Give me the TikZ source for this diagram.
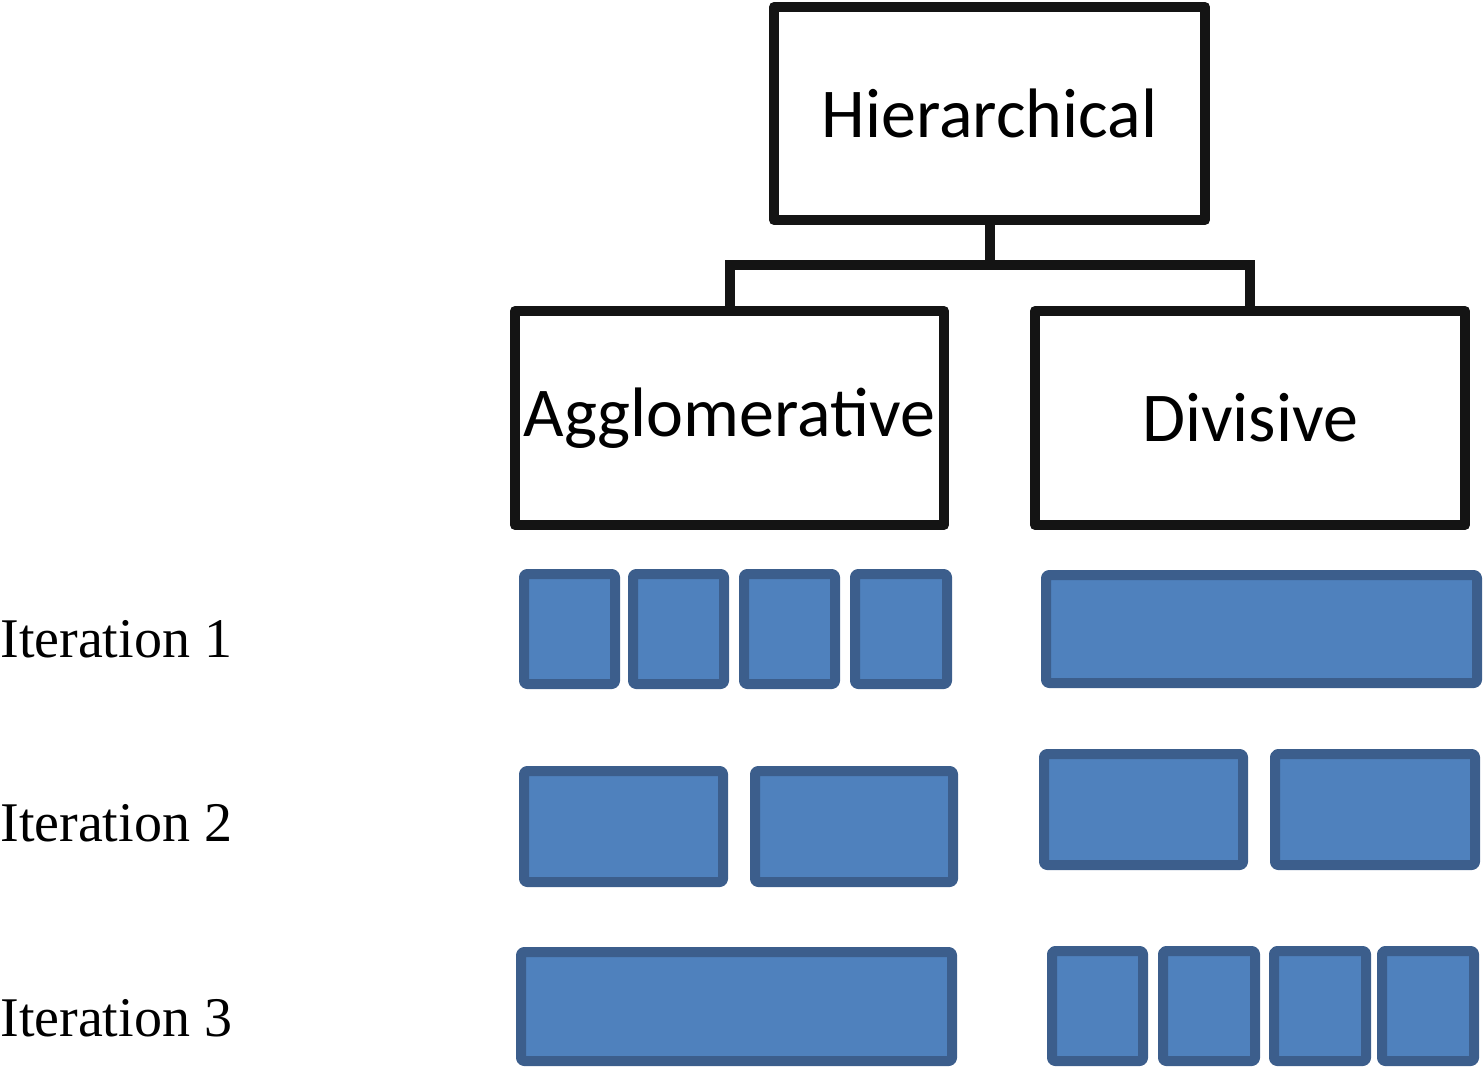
\documentclass[tikz,border=0pt]{standalone}
\usepackage{fontspec}
\usepackage{tikz}
\setmainfont{Liberation Serif}
\newfontfamily\boxfont{Carlito}
\definecolor{nearblack}{rgb}{0.08,0.08,0.08}
\definecolor{cellfill}{rgb}{0.31,0.506,0.741}
\definecolor{celledge}{rgb}{0.235,0.369,0.549}
\tikzset{
  classbox/.style={draw=nearblack,line width=5pt,line join=round,fill=white,rectangle,inner sep=0pt,font=\boxfont\fontsize{35}{42}\selectfont},
  link/.style={draw=nearblack,line width=5pt,line join=miter},
  cell/.style={draw=celledge,fill=cellfill,line width=5pt,rounded corners=1.5pt},
  iterlabel/.style={anchor=base west,inner sep=0pt,font=\fontsize{28}{34}\selectfont}
}
\begin{document}
\begin{tikzpicture}[line cap=round,line join=round,x=0.5pt,y=-0.5pt]
\useasboundingbox (0,0) rectangle (1484,1067);

% tree
\node[classbox,minimum width=215.5pt,minimum height=106.5pt] (hier) at (989.5,113.5) {Hierarchical};
\node[classbox,minimum width=214.5pt,minimum height=107pt] (aggl) at (729.5,418) {Agglomerative};
\node[classbox,minimum width=215pt,minimum height=107pt] (divi) at (1250,418) {Divisive};
\draw[link] (hier.south) -- ++(0,40) coordinate (fork) -| (aggl.north);
\draw[link] (fork) -| (divi.north);

% iteration labels
\node[iterlabel] (it1) at (0,657) {Iteration 1};
\node[iterlabel] (it2) at (0,841) {Iteration 2};
\node[iterlabel] (it3) at (0,1036) {Iteration 3};

% iteration 1
\draw[cell] (524,574) rectangle (615,684);
\draw[cell] (633,574) rectangle (724,684);
\draw[cell] (744,574) rectangle (835,684);
\draw[cell] (855,574) rectangle (947,684);
\draw[cell] (1046,575) rectangle (1477,683);
% iteration 2
\draw[cell] (524,771) rectangle (723,882);
\draw[cell] (755,771) rectangle (953,882);
\draw[cell] (1044,754) rectangle (1243,865);
\draw[cell] (1275,754) rectangle (1475,865);
% iteration 3
\draw[cell] (521,952) rectangle (952,1061);
\draw[cell] (1052,951) rectangle (1143,1061);
\draw[cell] (1163,951) rectangle (1255,1061);
\draw[cell] (1274,951) rectangle (1366,1061);
\draw[cell] (1382,951) rectangle (1474,1061);

\end{tikzpicture}
\end{document}
